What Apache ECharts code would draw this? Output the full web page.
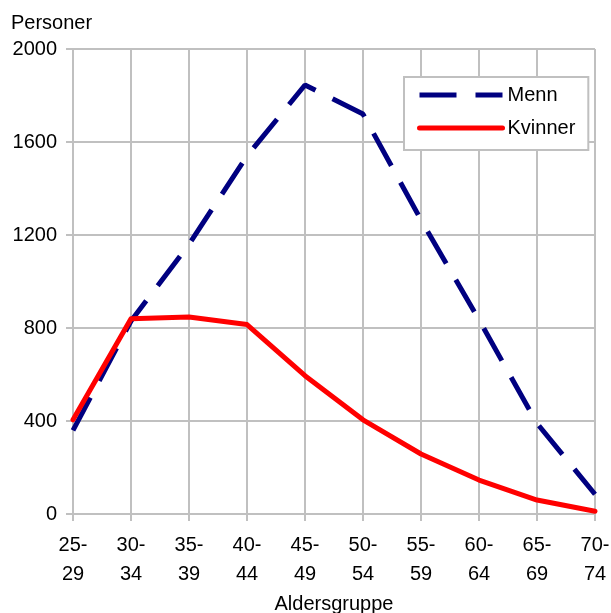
<!DOCTYPE html>
<html>
<head>
<meta charset="utf-8">
<script src="https://cdn.jsdelivr.net/npm/echarts@6/dist/echarts.min.js"></script>
<style>
html,body{margin:0;padding:0;background:#fff;overflow:hidden;}
#chart{width:611px;height:613px;}
</style>
</head>
<body>
<div id="chart"></div>
<script>
const categories = ['25-\n29','30-\n34','35-\n39','40-\n44','45-\n49','50-\n54','55-\n59','60-\n64','65-\n69','70-\n74'];
const menn = [360, 830, 1160, 1540, 1845, 1720, 1265, 835, 390, 85];
const kvinner = [405, 840, 847, 815, 595, 405, 258, 146, 60, 12];
const yTicks = [0, 400, 800, 1200, 1600, 2000];
const yTitle = 'Personer';
const xTitle = 'Aldersgruppe';

const FONT = '"Liberation Sans", Arial, sans-serif';
const GRAY = '#c0c0c0';
const chart = echarts.init(document.getElementById('chart'), null, {renderer: 'canvas', width: 611, height: 613});
chart.setOption({
  animation: false,
  backgroundColor: '#ffffff',
  textStyle: {fontFamily: FONT},
  grid: {left: 73, width: 522, top: 49, height: 465, containLabel: false, outerBoundsMode: 'none'},
  graphic: [{
    type: 'text', left: 11, top: 13,
    style: {text: yTitle, fontSize: 20, fontFamily: FONT, fill: '#000'}
  }],
  legend: {
    orient: 'vertical',
    left: 404, top: 77,
    padding: [8, 13, 12, 13],
    itemWidth: 83, itemHeight: 14, itemGap: 13,
    borderColor: GRAY, borderWidth: 2,
    backgroundColor: '#fff',
    itemStyle: {opacity: 0},
    lineStyle: {width: 5},
    textStyle: {fontSize: 20, fontFamily: FONT, color: '#000'},
    data: ['Menn', 'Kvinner']
  },
  xAxis: {
    type: 'category',
    data: categories,
    boundaryGap: false,
    name: xTitle,
    nameLocation: 'middle',
    nameGap: 80,
    nameTextStyle: {fontSize: 20, color: '#000', fontFamily: FONT},
    axisLine: {lineStyle: {color: GRAY, width: 2}},
    axisTick: {show: true, length: 7, lineStyle: {color: GRAY, width: 2}},
    splitLine: {show: true, lineStyle: {color: GRAY, width: 2}},
    axisLabel: {fontSize: 20, color: '#000', lineHeight: 29, margin: 17, interval: 0, fontFamily: FONT}
  },
  yAxis: {
    type: 'value',
    min: yTicks[0], max: yTicks[yTicks.length - 1], interval: 400,
    axisLine: {show: true, lineStyle: {color: GRAY, width: 2}},
    axisTick: {show: true, length: 7, lineStyle: {color: GRAY, width: 2}},
    splitLine: {show: true, lineStyle: {color: GRAY, width: 2}},
    axisLabel: {fontSize: 20, color: '#000', margin: 16, fontFamily: FONT, formatter: v => String(v)}
  },
  series: [
    {
      name: 'Menn', type: 'line', data: menn,
      symbol: 'none', color: '#000080',
      lineStyle: {color: '#000080', width: 5, type: [37, 19], cap: 'butt'}
    },
    {
      name: 'Kvinner', type: 'line', data: kvinner,
      symbol: 'none', color: '#ff0000',
      lineStyle: {color: '#ff0000', width: 5, cap: 'round', join: 'round'}
    }
  ]
});
</script>
</body>
</html>
